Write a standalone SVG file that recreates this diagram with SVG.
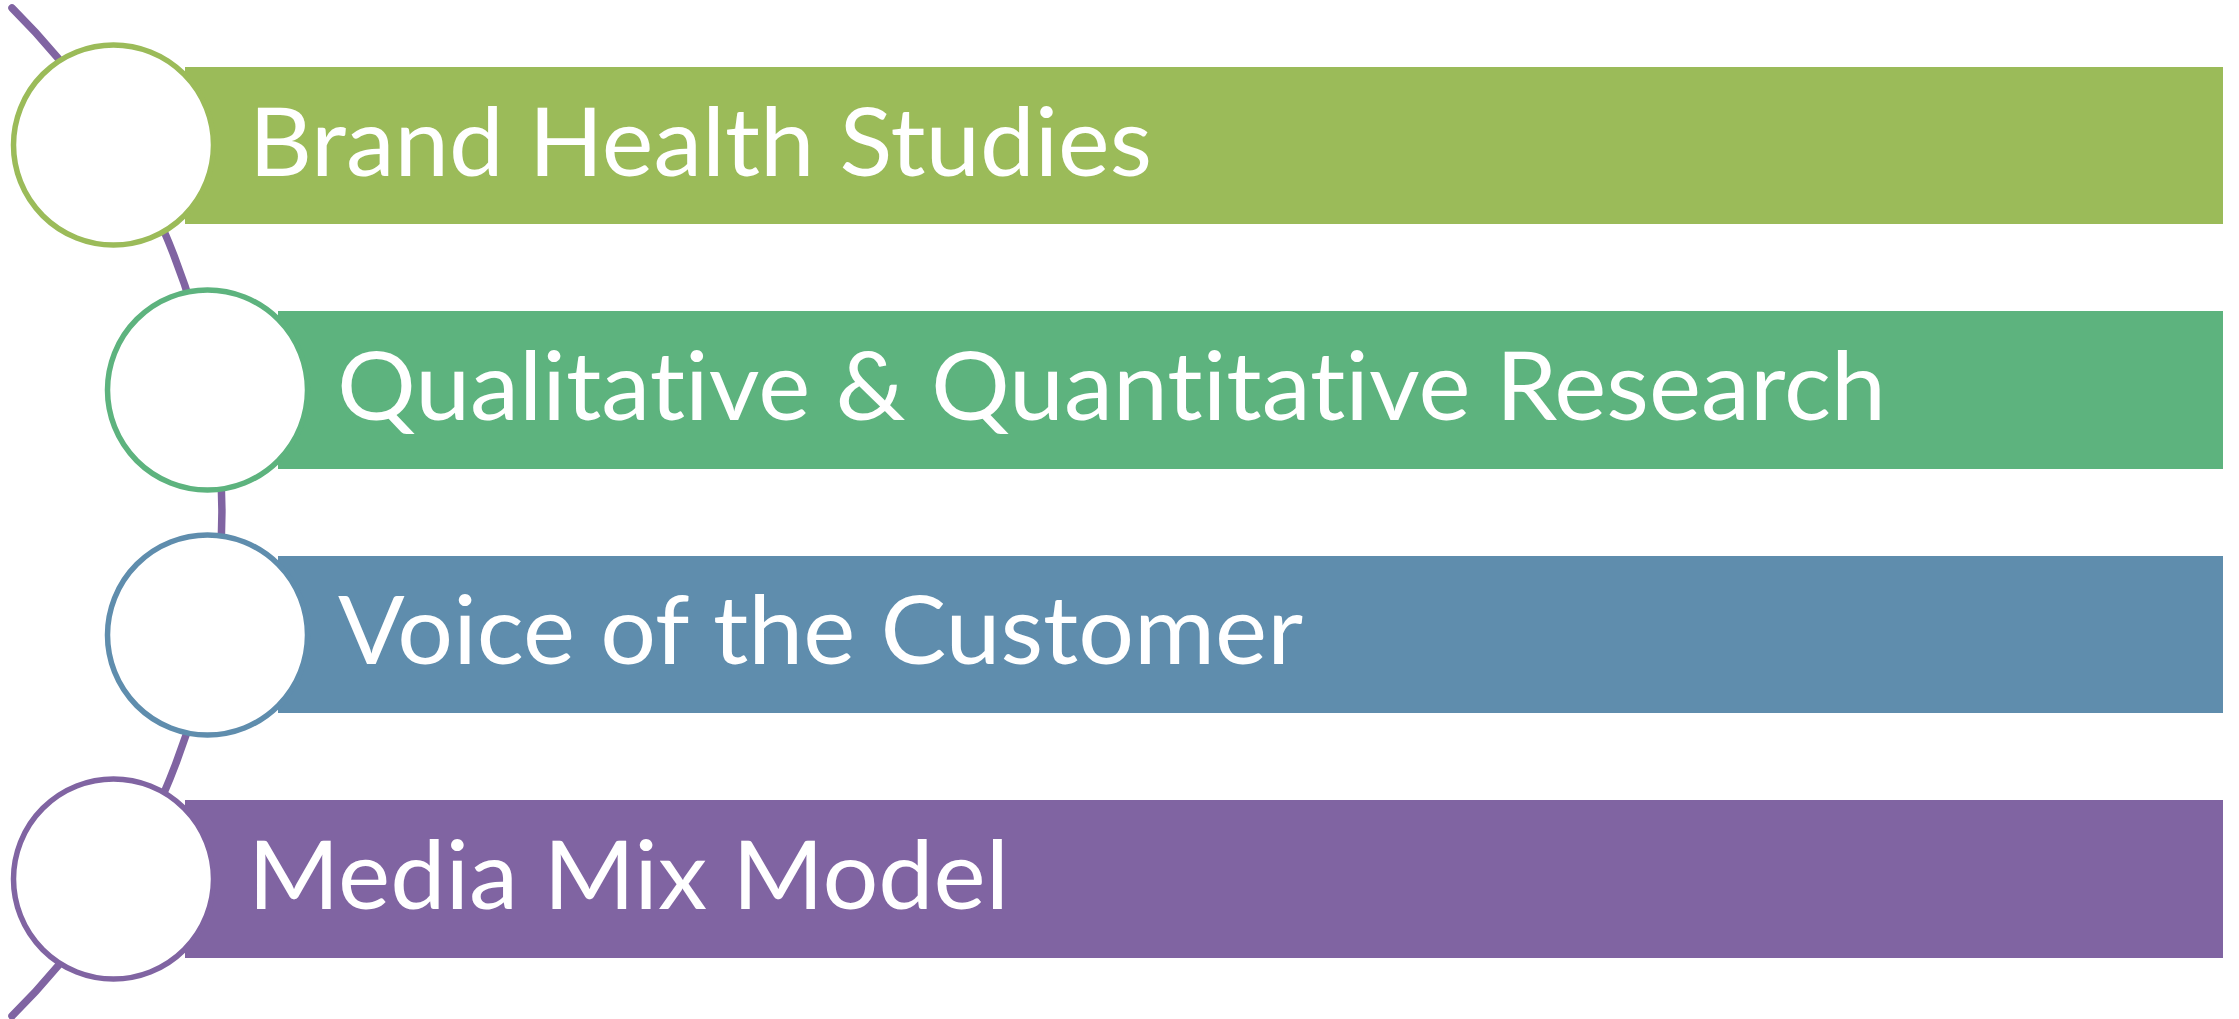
<svg xmlns="http://www.w3.org/2000/svg" width="2239" height="1019" viewBox="0 0 2239 1019">
<style>
.lbl{font-family:Lato,"Open Sans","Liberation Sans",sans-serif;font-size:95px;fill:#FFFFFF;font-variant-ligatures:none;font-feature-settings:"liga" 0,"dlig" 0;}
.ring{fill:#FFFFFF;stroke-width:5.5;}
</style>
<rect width="2239" height="1019" fill="#FFFFFF"/>
<g id="connectors">
<path d="M 12 8 A 710 710 0 0 1 12 1016" fill="none" stroke="#8064A2" stroke-width="7.5" stroke-linecap="round"/>
</g>
<g id="node1">
<rect x="185" y="67" width="2038" height="157" fill="#9BBB59"/>
<circle class="ring" cx="113.5" cy="145" r="100" stroke="#9BBB59"/>
<text class="lbl" x="249" y="176" textLength="903" lengthAdjust="spacingAndGlyphs">Brand Health Studies</text>
</g>
<g id="node2">
<rect x="278" y="311" width="1945" height="158" fill="#5DB37E"/>
<circle class="ring" cx="207.5" cy="390" r="100" stroke="#5DB37E"/>
<text class="lbl" x="337" y="420" textLength="1549" lengthAdjust="spacingAndGlyphs">Qualitative &amp; Quantitative Research</text>
</g>
<g id="node3">
<rect x="278" y="556" width="1945" height="157" fill="#5F8DAD"/>
<circle class="ring" cx="207.5" cy="635" r="100" stroke="#5F8DAD"/>
<text class="lbl" x="338" y="664" textLength="965" lengthAdjust="spacingAndGlyphs">Voice of the Customer</text>
</g>
<g id="node4">
<rect x="185" y="800" width="2038" height="158" fill="#8064A2"/>
<circle class="ring" cx="113.5" cy="879" r="100" stroke="#8064A2"/>
<text class="lbl" x="248" y="909" textLength="761" lengthAdjust="spacingAndGlyphs">Media Mix Model</text>
</g>
</svg>
